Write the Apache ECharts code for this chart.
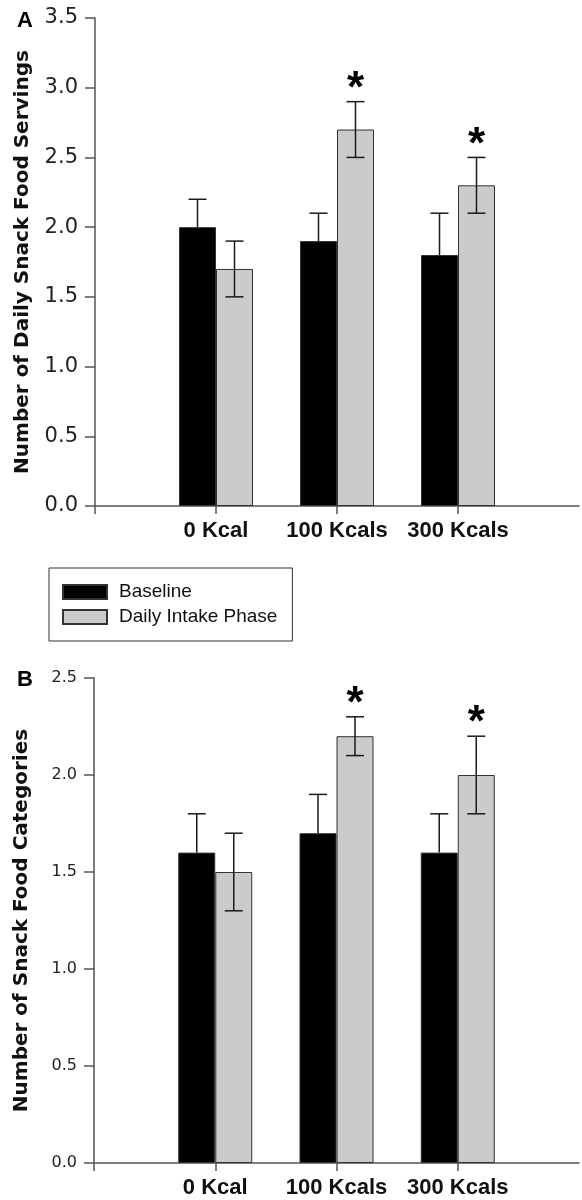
<!DOCTYPE html>
<html>
<head>
<meta charset="utf-8">
<script src="https://cdn.jsdelivr.net/npm/echarts@6/dist/echarts.min.js"></script>
<style>
html,body{margin:0;padding:0;background:#fff;}
#chart{width:582px;height:1200px;}
</style>
</head>
<body>
<div id="chart"></div>
<script>
// ---- Data ----
const categories = ['0 Kcal', '100 Kcals', '300 Kcals'];
const seriesNames = ['Baseline', 'Daily Intake Phase'];

// Panel A: Number of Daily Snack Food Servings
const baselineA = [2.0, 1.9, 1.8];
const baselineErrA = [0.2, 0.2, 0.3];
const intakeA = [1.7, 2.7, 2.3];
const intakeErrA = [0.2, 0.2, 0.2];
const sigA = [false, true, true];
const yTicksA = [0, 0.5, 1.0, 1.5, 2.0, 2.5, 3.0, 3.5];

// Panel B: Number of Snack Food Categories
const baselineB = [1.6, 1.7, 1.6];
const baselineErrB = [0.2, 0.2, 0.2];
const intakeB = [1.5, 2.2, 2.0];
const intakeErrB = [0.2, 0.1, 0.2];
const sigB = [false, true, true];
const yTicksB = [0, 0.5, 1.0, 1.5, 2.0, 2.5];

// ---- Build ----
const FONT = '"Liberation Sans", Arial, Helvetica, sans-serif';
const WIDE = '"DejaVu Sans", "Liberation Sans", sans-serif';
const axisCats = [''].concat(categories, ['']);
const pad = arr => ['-'].concat(arr, ['-']);
const BAR_W = 37;
const CAP_HALF = 9;

// upperOnly: the lower whisker is hidden inside the black bar
function errData(vals, errs, sig, upperOnly) {
  return vals.map((v, i) => [i + 1, upperOnly ? v : v - errs[i], v + errs[i], sig ? (sig[i] ? 1 : 0) : 0]);
}

function errRender(offset, upperOnly) {
  return function (params, api) {
    const x = api.value(0), lo = api.value(1), hi = api.value(2), s = api.value(3);
    const pLo = api.coord([x, lo]);
    const pHi = api.coord([x, hi]);
    const cx = pLo[0] + offset;
    const st = { stroke: '#1a1a1a', lineWidth: 1.5 };
    const children = [
      { type: 'line', shape: { x1: cx, y1: pLo[1], x2: cx, y2: pHi[1] }, style: st },
      { type: 'line', shape: { x1: cx - CAP_HALF, y1: pHi[1], x2: cx + CAP_HALF, y2: pHi[1] }, style: st }
    ];
    if (!upperOnly) {
      children.push({ type: 'line', shape: { x1: cx - CAP_HALF, y1: pLo[1], x2: cx + CAP_HALF, y2: pLo[1] }, style: st });
    }
    if (s) {
      children.push({
        type: 'text', x: cx, y: pHi[1] + 10,
        style: { text: '*', font: 'bold 44px ' + FONT, fill: '#000', textAlign: 'center', textVerticalAlign: 'bottom' }
      });
    }
    return { type: 'group', children: children };
  };
}

const axisLineStyle = { color: '#555', width: 1.5 };

function xAxis(gridIndex) {
  return {
    type: 'category', gridIndex: gridIndex, data: axisCats, boundaryGap: false,
    axisLine: { lineStyle: axisLineStyle },
    axisTick: { length: 8, lineStyle: axisLineStyle, interval: (i) => i < axisCats.length - 1 },
    axisLabel: { interval: 0, margin: 14, fontFamily: FONT, fontWeight: 'bold', fontSize: 22, color: '#111' },
    splitLine: { show: false }
  };
}

function yAxis(gridIndex, ticks, name, labelSize) {
  const step = ticks[1] - ticks[0];
  return {
    type: 'value', gridIndex: gridIndex, min: ticks[0], max: ticks[ticks.length - 1], interval: step,
    name: name, nameLocation: 'middle', nameGap: 62, nameRotate: 90,
    nameTextStyle: { fontFamily: WIDE, fontWeight: 'bold', fontSize: 20, color: '#111' },
    axisLine: { show: true, lineStyle: axisLineStyle },
    axisTick: { show: true, length: 10, lineStyle: axisLineStyle },
    axisLabel: { margin: 17, fontFamily: WIDE, fontSize: labelSize, color: '#222', formatter: v => v.toFixed(1) },
    splitLine: { show: false }
  };
}

function barSeries(name, idx, data, color) {
  return {
    name: name, type: 'bar', xAxisIndex: idx, yAxisIndex: idx,
    data: pad(data), barWidth: BAR_W, barGap: '0%',
    itemStyle: { color: color, borderColor: '#333', borderWidth: 1 },
    z: 2
  };
}

function errSeries(idx, vals, errs, sig, offset, upperOnly) {
  return {
    type: 'custom', xAxisIndex: idx, yAxisIndex: idx,
    data: errData(vals, errs, sig, upperOnly), encode: { x: 0, y: [1, 2] },
    renderItem: errRender(offset, upperOnly), z: 3, silent: true
  };
}

const chart = echarts.init(document.getElementById('chart'), null, { renderer: 'canvas' });
chart.setOption({
  animation: false,
  backgroundColor: '#fff',
  grid: [
    { left: 95, right: 0, top: 18, height: 488 },
    { left: 94, right: 0, top: 678, height: 485 }
  ],
  legend: {
    data: seriesNames, orient: 'vertical', left: 49, top: 568,
    itemWidth: 44, itemHeight: 14, itemGap: 5,
    padding: [14, 15, 14, 13],
    borderColor: '#333', borderWidth: 1,
    textStyle: { fontFamily: FONT, fontSize: 19, color: '#111', lineHeight: 20, padding: [0, 0, 0, 7] },
    icon: 'rect'
  },
  title: [
    { text: 'A', left: 12, top: 5, textStyle: { fontFamily: FONT, fontWeight: 'bold', fontSize: 22, color: '#000' } },
    { text: 'B', left: 12, top: 664, textStyle: { fontFamily: FONT, fontWeight: 'bold', fontSize: 22, color: '#000' } }
  ],
  xAxis: [xAxis(0), xAxis(1)],
  yAxis: [
    yAxis(0, yTicksA, 'Number of Daily Snack Food Servings', 21),
    yAxis(1, yTicksB, 'Number of Snack Food Categories', 16)
  ],
  series: [
    barSeries(seriesNames[0], 0, baselineA, '#000'),
    barSeries(seriesNames[1], 0, intakeA, '#cbcbcb'),
    errSeries(0, baselineA, baselineErrA, null, -BAR_W / 2, true),
    errSeries(0, intakeA, intakeErrA, sigA, BAR_W / 2, false),
    barSeries(seriesNames[0], 1, baselineB, '#000'),
    barSeries(seriesNames[1], 1, intakeB, '#cbcbcb'),
    errSeries(1, baselineB, baselineErrB, null, -BAR_W / 2, true),
    errSeries(1, intakeB, intakeErrB, sigB, BAR_W / 2, false)
  ]
});
</script>
</body>
</html>
